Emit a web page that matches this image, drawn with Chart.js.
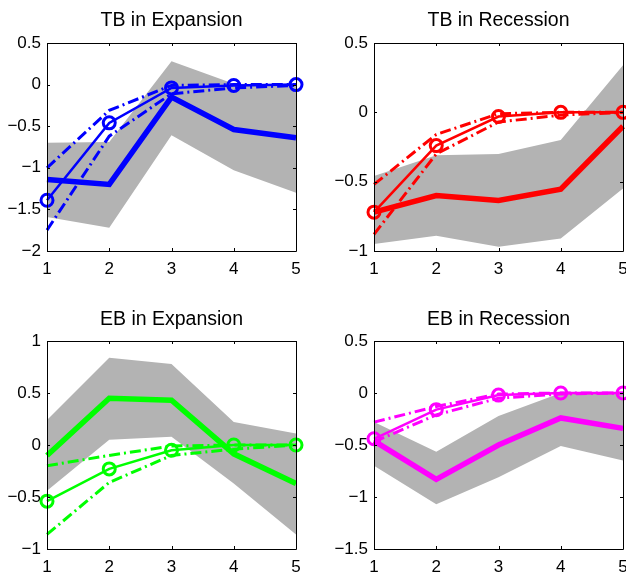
<!DOCTYPE html>
<html>
<head>
<meta charset="utf-8">
<title>Impulse responses: TB and EB</title>
<script src="https://cdn.jsdelivr.net/npm/chart.js@4.4.0/dist/chart.umd.min.js"></script>
<style>
	html, body { margin: 0; padding: 0; background: #fff; overflow: hidden; }
	#wrap { position: relative; width: 626px; height: 574px; overflow: hidden; }
	canvas { position: absolute; }
</style>
</head>
<body>
<div id="wrap">
	<canvas id="tbExp" width="313" height="287" style="left:0;top:0"></canvas>
	<canvas id="tbRec" width="330" height="287" style="left:313px;top:0"></canvas>
	<canvas id="ebExp" width="313" height="287" style="left:0;top:287px"></canvas>
	<canvas id="ebRec" width="330" height="287" style="left:313px;top:287px"></canvas>
</div>
<script>
const horizons = ['1', '2', '3', '4', '5'];

// TB in Expansion
const tbExpTicks = [-2, -1.5, -1, -0.5, 0, 0.5];
const tbExpIrf = [-1.14, -1.20, -0.15, -0.54, -0.64];
const tbExpBandHi = [-0.70, -0.69, 0.28, 0.01, 0.00];
const tbExpBandLo = [-1.59, -1.72, -0.61, -1.03, -1.30];
const tbExpLin = [-1.39, -0.46, -0.04, -0.01, 0.00];
const tbExpLinHi = [-1.00, -0.31, -0.01, 0.00, 0.00];
const tbExpLinLo = [-1.75, -0.62, -0.11, -0.04, -0.01];

// TB in Recession
const tbRecTicks = [-1, -0.5, 0, 0.5];
const tbRecIrf = [-0.72, -0.60, -0.635, -0.555, -0.10];
const tbRecBandHi = [-0.46, -0.31, -0.30, -0.20, 0.34];
const tbRecBandLo = [-0.95, -0.89, -0.97, -0.91, -0.55];
const tbRecLin = [-0.72, -0.24, -0.03, 0.00, 0.00];
const tbRecLinHi = [-0.52, -0.16, -0.01, 0.00, 0.00];
const tbRecLinLo = [-0.88, -0.30, -0.07, -0.02, 0.00];

// EB in Expansion
const ebExpTicks = [-1, -0.5, 0, 0.5, 1];
const ebExpIrf = [-0.10, 0.45, 0.43, -0.085, -0.37];
const ebExpBandHi = [0.24, 0.84, 0.78, 0.22, 0.11];
const ebExpBandLo = [-0.44, 0.05, 0.08, -0.37, -0.86];
const ebExpLin = [-0.54, -0.23, -0.05, 0.00, 0.00];
const ebExpLinHi = [-0.20, -0.10, -0.01, 0.00, 0.00];
const ebExpLinLo = [-0.86, -0.36, -0.10, -0.04, 0.00];

// EB in Recession
const ebRecTicks = [-1.5, -1, -0.5, 0, 0.5];
const ebRecIrf = [-0.46, -0.83, -0.50, -0.24, -0.34];
const ebRecBandHi = [-0.28, -0.565, -0.22, 0.00, 0.00];
const ebRecBandLo = [-0.70, -1.07, -0.81, -0.51, -0.65];
const ebRecLin = [-0.44, -0.16, -0.02, 0.00, 0.00];
const ebRecLinHi = [-0.28, -0.13, -0.01, 0.00, 0.00];
const ebRecLinLo = [-0.47, -0.21, -0.05, -0.01, 0.00];

const FONT = '"Liberation Sans", Arial, Helvetica, sans-serif';
const BAND = '#b3b3b3';

// box round the plot with small inward tick marks, like matlab axes
const frameTicks = {
	id: 'frameTicks',
	afterDatasetsDraw(chart) {
		const { ctx, chartArea: a, scales: { x, y } } = chart;
		ctx.save();
		ctx.strokeStyle = '#000';
		ctx.lineWidth = 1;
		ctx.beginPath();
		ctx.rect(Math.round(a.left) + 0.5, Math.round(a.top) + 0.5,
			Math.round(a.right - a.left), Math.round(a.bottom - a.top));
		x.ticks.forEach((t, i) => {
			const px = Math.round(x.getPixelForTick(i)) + 0.5;
			ctx.moveTo(px, a.bottom); ctx.lineTo(px, a.bottom - 3);
			ctx.moveTo(px, a.top); ctx.lineTo(px, a.top + 3);
		});
		y.ticks.forEach((t, i) => {
			const py = Math.round(y.getPixelForTick(i)) + 0.5;
			ctx.moveTo(a.left, py); ctx.lineTo(a.left + 3, py);
			ctx.moveTo(a.right, py); ctx.lineTo(a.right - 3, py);
		});
		ctx.stroke();
		ctx.restore();
	}
};

function fmt(v) {
	return v < 0 ? '\u2212' + Math.abs(v) : String(v);
}

function makePanel(id, title, ticks, s, color, isLeft, isTop) {
	const dash = [11, 4, 2, 4];
	new Chart(document.getElementById(id), {
		type: 'line',
		data: {
			labels: horizons,
			datasets: [
				{ data: s.irf, borderColor: color, borderWidth: 5.5, pointRadius: 0, fill: false },
				{ data: s.lin, borderColor: color, borderWidth: 2.5, pointRadius: 6, pointBorderWidth: 3,
					pointBorderColor: color, pointBackgroundColor: 'rgba(0,0,0,0)', fill: false, clip: false },
				{ data: s.linHi, borderColor: color, borderWidth: 3, borderDash: dash, pointRadius: 0, fill: false },
				{ data: s.linLo, borderColor: color, borderWidth: 3, borderDash: dash, pointRadius: 0, fill: false },
				{ data: s.bandHi, borderWidth: 0, borderColor: BAND, backgroundColor: BAND, pointRadius: 0, fill: '+1' },
				{ data: s.bandLo, borderWidth: 0, borderColor: BAND, pointRadius: 0, fill: false }
			]
		},
		options: {
			responsive: false,
			animation: false,
			events: [],
			layout: { padding: { left: 0, right: isLeft ? 17 : 20, top: 0, bottom: 0 } },
			plugins: {
				legend: { display: false },
				tooltip: { enabled: false },
				title: {
					display: true,
					text: title,
					fullSize: false,
					color: '#000',
					font: { family: FONT, size: 19.5, weight: 'normal' },
					padding: isTop ? { top: 9, bottom: 10.6 } : { top: 21, bottom: 9.6 }
				}
			},
			scales: {
				x: {
					type: 'category',
					offset: false,
					grid: { display: false, drawTicks: false },
					border: { display: false },
					ticks: { color: '#000', padding: 8, font: { family: FONT, size: 17 } },
					afterFit: sc => { sc.height = isTop ? 36 : 25; }
				},
				y: {
					min: ticks[0],
					max: ticks[ticks.length - 1],
					grid: { display: false, drawTicks: false },
					border: { display: false },
					ticks: { color: '#000', padding: 6, font: { family: FONT, size: 17 }, callback: v => fmt(v) },
					afterBuildTicks: sc => { sc.ticks = ticks.map(v => ({ value: v })); },
					afterFit: sc => { sc.width = isLeft ? 47 : 61; }
				}
			}
		},
		plugins: [frameTicks]
	});
}

makePanel('tbExp', 'TB in Expansion', tbExpTicks,
	{ irf: tbExpIrf, bandHi: tbExpBandHi, bandLo: tbExpBandLo, lin: tbExpLin, linHi: tbExpLinHi, linLo: tbExpLinLo },
	'#0000ff', true, true);
makePanel('tbRec', 'TB in Recession', tbRecTicks,
	{ irf: tbRecIrf, bandHi: tbRecBandHi, bandLo: tbRecBandLo, lin: tbRecLin, linHi: tbRecLinHi, linLo: tbRecLinLo },
	'#ff0000', false, true);
makePanel('ebExp', 'EB in Expansion', ebExpTicks,
	{ irf: ebExpIrf, bandHi: ebExpBandHi, bandLo: ebExpBandLo, lin: ebExpLin, linHi: ebExpLinHi, linLo: ebExpLinLo },
	'#00ff00', true, false);
makePanel('ebRec', 'EB in Recession', ebRecTicks,
	{ irf: ebRecIrf, bandHi: ebRecBandHi, bandLo: ebRecBandLo, lin: ebRecLin, linHi: ebRecLinHi, linLo: ebRecLinLo },
	'#ff00ff', false, false);
</script>
</body>
</html>
